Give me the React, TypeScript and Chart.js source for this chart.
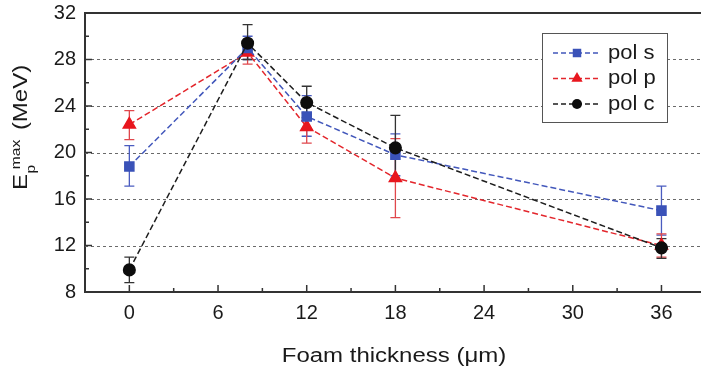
import React, { useEffect, useRef } from "react";
import { Chart, registerables } from "chart.js";

Chart.register(...registerables);

// ---- data ----
const thickness = [0, 8, 12, 18, 36];

const polS = [18.8, 29.0, 23.1, 19.8, 15.0];
const polSLo = [17.1, 28.0, 21.4, 18.0, 12.9];
const polSHi = [20.6, 30.0, 24.9, 21.6, 17.1];

const polP = [22.4, 28.6, 22.2, 17.8, 12.0];
const polPLo = [21.1, 27.6, 20.8, 14.4, 11.0];
const polPHi = [23.6, 29.6, 23.4, 21.2, 13.0];

const polC = [9.9, 29.4, 24.3, 20.4, 11.8];
const polCLo = [8.8, 28.0, 23.0, 17.6, 10.9];
const polCHi = [11.0, 31.0, 25.7, 23.2, 12.6];

const seriesLabels = ["pol s", "pol p", "pol c"];
const xTicks = [0, 6, 12, 18, 24, 30, 36];
const xMinorTicks = [3, 9, 15, 21, 27, 33];
const yTicks = [8, 12, 16, 20, 24, 28, 32];
const yMinorTicks = [10, 14, 18, 22, 26, 30];
const yGridValues = [12, 16, 20, 24, 28];
const xTitle = "Foam thickness (\u03bcm)";

const FONT = '"Liberation Sans", Arial, Helvetica, sans-serif';

const toPoints = (ys: number[]) => thickness.map((x, i) => ({ x, y: ys[i] }));

function drawMarker(ctx: CanvasRenderingContext2D, style: string, x: number, y: number, r: number, color: string) {
  ctx.fillStyle = color;
  ctx.beginPath();
  if (style === "rect") {
    const s = r * Math.SQRT1_2;
    ctx.rect(x - s, y - s, 2 * s, 2 * s);
  } else if (style === "triangle") {
    ctx.moveTo(x, y - r);
    ctx.lineTo(x + r * 0.866, y + r * 0.5);
    ctx.lineTo(x - r * 0.866, y + r * 0.5);
    ctx.closePath();
  } else {
    ctx.arc(x, y, r, 0, Math.PI * 2);
  }
  ctx.fill();
}

const decorPlugin = {
  id: "decor",
  beforeDatasetsDraw(chart: any) {
    const { ctx, chartArea: a, scales } = chart;
    const x = scales.x;
    const y = scales.y;
    const R = chart.width;
    ctx.save();
    // dotted horizontal grid
    ctx.strokeStyle = "#6a6a6a";
    ctx.lineWidth = 1;
    ctx.setLineDash([3, 3]);
    yGridValues.forEach((v) => {
      const py = Math.round(y.getPixelForValue(v)) + 0.5;
      ctx.beginPath();
      ctx.moveTo(a.left, py);
      ctx.lineTo(R, py);
      ctx.stroke();
    });
    ctx.setLineDash([]);
    // inward ticks
    ctx.strokeStyle = "#333";
    ctx.lineWidth = 1.5;
    const tickX = (vals: number[], len: number) =>
      vals.forEach((v) => {
        const px = x.getPixelForValue(v);
        ctx.beginPath();
        ctx.moveTo(px, a.bottom);
        ctx.lineTo(px, a.bottom - len);
        ctx.stroke();
      });
    const tickY = (vals: number[], len: number) =>
      vals.forEach((v) => {
        const py = y.getPixelForValue(v);
        ctx.beginPath();
        ctx.moveTo(a.left, py);
        ctx.lineTo(a.left + len, py);
        ctx.stroke();
      });
    tickX(xTicks, 7);
    tickX(xMinorTicks, 4);
    tickY(yTicks, 7);
    tickY(yMinorTicks, 4);
    // frame: top border and bottom axis, running to the canvas edge
    ctx.strokeStyle = "#333";
    ctx.lineWidth = 2;
    ctx.beginPath();
    ctx.moveTo(a.left - 1, a.top);
    ctx.lineTo(R, a.top);
    ctx.moveTo(a.left - 1, a.bottom);
    ctx.lineTo(R, a.bottom);
    ctx.stroke();
    // error bars
    chart.data.datasets.forEach((ds: any) => {
      ctx.strokeStyle = ds.errColor;
      ctx.lineWidth = 1.3;
      ds.data.forEach((p: any, i: number) => {
        const px = x.getPixelForValue(p.x);
        const lo = y.getPixelForValue(ds.errLo[i]);
        const hi = y.getPixelForValue(ds.errHi[i]);
        ctx.beginPath();
        ctx.moveTo(px, lo);
        ctx.lineTo(px, hi);
        ctx.moveTo(px - 5, lo);
        ctx.lineTo(px + 5, lo);
        ctx.moveTo(px - 5, hi);
        ctx.lineTo(px + 5, hi);
        ctx.stroke();
      });
    });
    ctx.restore();
  },
  afterDraw(chart: any) {
    const { ctx, chartArea: a } = chart;
    const W = chart.width;
    ctx.save();
    // legend box
    const bx = W - 159;
    const by = a.top + 20;
    const bw = 125;
    const bh = 89;
    ctx.fillStyle = "#fff";
    ctx.fillRect(bx, by, bw, bh);
    ctx.strokeStyle = "#555";
    ctx.lineWidth = 1;
    ctx.strokeRect(bx + 0.5, by + 0.5, bw, bh);
    const order = [0, 1, 2];
    order.forEach((di, row) => {
      const ds = chart.data.datasets[di];
      const cy = by + 20 + row * 25.5;
      ctx.strokeStyle = ds.borderColor;
      ctx.lineWidth = 1.5;
      ctx.setLineDash([5, 3]);
      ctx.beginPath();
      ctx.moveTo(bx + 11, cy);
      ctx.lineTo(bx + 58, cy);
      ctx.stroke();
      ctx.setLineDash([]);
      drawMarker(ctx, ds.pointStyle, bx + 35, cy, ds.pointStyle === "triangle" ? 6.5 : ds.pointStyle === "rect" ? 6 : 5, ds.pointBackgroundColor);
      ctx.save();
      ctx.translate(bx + 66, cy);
      ctx.scale(1.1, 1);
      ctx.fillStyle = "#1a1a1a";
      ctx.font = `20px ${FONT}`;
      ctx.textBaseline = "middle";
      ctx.textAlign = "left";
      ctx.fillText(ds.label, 0, 0);
      ctx.restore();
    });
    // x title
    ctx.save();
    ctx.translate(394, 362);
    ctx.scale(1.2, 1);
    ctx.fillStyle = "#1a1a1a";
    ctx.font = `20px ${FONT}`;
    ctx.textAlign = "center";
    ctx.textBaseline = "alphabetic";
    ctx.fillText(xTitle, 0, 0);
    ctx.restore();
    // y title (rotated, with sub/superscript)
    ctx.save();
    ctx.translate(27, 190);
    ctx.rotate(-Math.PI / 2);
    ctx.scale(1.2, 1);
    ctx.fillStyle = "#1a1a1a";
    ctx.textAlign = "left";
    ctx.textBaseline = "alphabetic";
    ctx.font = `20px ${FONT}`;
    ctx.fillText("E", 0, 0);
    const ew = ctx.measureText("E").width;
    ctx.font = `13px ${FONT}`;
    ctx.fillText("p", ew + 0.5, 8);
    ctx.fillText("max", ew + 4, -7);
    const mw = ctx.measureText("max").width;
    ctx.font = `20px ${FONT}`;
    ctx.fillText("(MeV)", ew + 4 + mw + 8, 0);
    ctx.restore();
    ctx.restore();
  },
};

export default function App() {
  const ref = useRef<HTMLCanvasElement | null>(null);

  useEffect(() => {
    if (!ref.current) return;
    const chart = new Chart(ref.current, {
      type: "line",
      data: {
        datasets: [
          {
            label: seriesLabels[0],
            data: toPoints(polS),
            errLo: polSLo,
            errHi: polSHi,
            errColor: "#4a5cc0",
            borderColor: "#4257bb",
            backgroundColor: "#3a52b8",
            pointBackgroundColor: "#3a52b8",
            pointBorderColor: "#3a52b8",
            pointStyle: "rect",
            pointRadius: 6.4,
            borderWidth: 1.5,
            borderDash: [6, 3],
            tension: 0,
            order: 1,
          },
          {
            label: seriesLabels[1],
            data: toPoints(polP),
            errLo: polPLo,
            errHi: polPHi,
            errColor: "#e0474c",
            borderColor: "#e3262c",
            backgroundColor: "#e8161e",
            pointBackgroundColor: "#e8161e",
            pointBorderColor: "#e8161e",
            pointStyle: "triangle",
            pointRadius: 7,
            borderWidth: 1.5,
            borderDash: [6, 3],
            tension: 0,
            order: 2,
          },
          {
            label: seriesLabels[2],
            data: toPoints(polC),
            errLo: polCLo,
            errHi: polCHi,
            errColor: "#333333",
            borderColor: "#1e1e1e",
            backgroundColor: "#0d0d0d",
            pointBackgroundColor: "#0d0d0d",
            pointBorderColor: "#0d0d0d",
            pointStyle: "circle",
            pointRadius: 5.8,
            borderWidth: 1.5,
            borderDash: [6, 3],
            tension: 0,
            order: 0,
          },
        ] as any,
      },
      options: {
        responsive: false,
        animation: false,
        layout: { padding: { top: 13, right: 0, left: 0, bottom: 0 } },
        plugins: { legend: { display: false }, tooltip: { enabled: false } },
        scales: {
          x: {
            type: "linear",
            min: -3,
            max: 38.1,
            afterBuildTicks: (s: any) => {
              s.ticks = xTicks.map((v) => ({ value: v }));
            },
            afterFit: (s: any) => {
              s.height = 81;
              s.paddingLeft = 0;
              s.paddingRight = 0;
            },
            grid: { display: false, drawTicks: false },
            border: { display: false },
            ticks: {
              color: "#1a1a1a",
              font: { size: 20, family: FONT },
              padding: 9,
              maxRotation: 0,
              autoSkip: false,
            },
          },
          y: {
            type: "linear",
            min: 8,
            max: 32,
            afterBuildTicks: (s: any) => {
              s.ticks = yTicks.map((v) => ({ value: v }));
            },
            afterFit: (s: any) => {
              s.width = 85;
              s.paddingTop = 0;
              s.paddingBottom = 0;
            },
            grid: { display: false, drawTicks: false },
            border: { display: true, color: "#333", width: 2 },
            ticks: {
              color: "#1a1a1a",
              font: { size: 20, family: FONT },
              padding: 9,
              autoSkip: false,
            },
          },
        },
      },
      plugins: [decorPlugin],
    });
    return () => chart.destroy();
  }, []);

  return (
    <div style={{ position: "fixed", left: 0, top: 0, width: 701, height: 373, background: "#fff" }}>
      <canvas ref={ref} width={701} height={373} style={{ display: "block" }} />
    </div>
  );
}
